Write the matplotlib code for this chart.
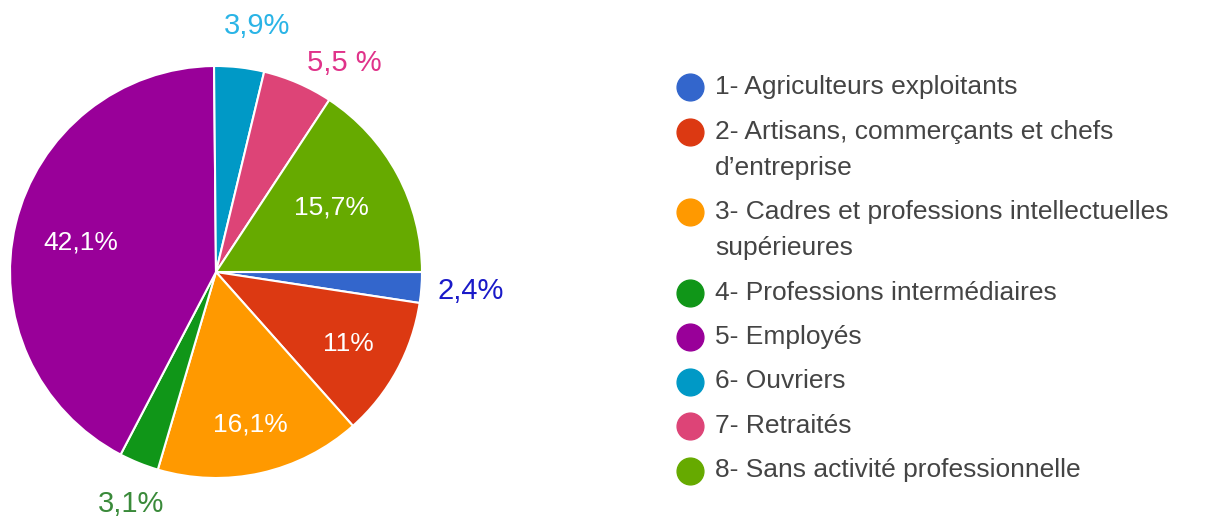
import textwrap
import numpy as np
import matplotlib
matplotlib.use("Agg")
import matplotlib.pyplot as plt

# ---------------- data ----------------
categories = [
    "1- Agriculteurs exploitants",
    "2- Artisans, commerçants et chefs d’entreprise",
    "3- Cadres et professions intellectuelles supérieures",
    "4- Professions intermédiaires",
    "5- Employés",
    "6- Ouvriers",
    "7- Retraités",
    "8- Sans activité professionnelle",
]
values = [2.4, 11, 16.1, 3.1, 42.1, 3.9, 5.5, 15.7]
value_labels = ["2,4%", "11%", "16,1%", "3,1%", "42,1%", "3,9%", "5,5 %", "15,7%"]
colors = ["#3366CC", "#DC3912", "#FF9900", "#109618",
          "#990099", "#0099C6", "#DD4477", "#66AA00"]

# label styling / layout (not data)
inside = [False, True, True, False, True, False, False, True]
label_radius = [1.24, 0.73, 0.76, 1.20, 0.67, 1.21, 1.19, 0.64]
angle_shift = [0, 0, 0, 2, 1, -3, -8, 1]
outside_colors = {0: "#1a1ac8", 3: "#3a8a3a", 5: "#2ab4e6", 6: "#e0338a"}

W, H = 1206, 523
plt.rcParams['font.family'] = ['Liberation Sans', 'DejaVu Sans']
fig = plt.figure(figsize=(W / 100, H / 100), dpi=100)
fig.patch.set_facecolor("white")

# pie axes: center (216, 272) px, radius 206 px
cx, cy, r = 216, 272, 206
ax = fig.add_axes([(cx - r) / W, (H - cy - r) / H, 2 * r / W, 2 * r / H])
wedges, _ = ax.pie(values, colors=colors, startangle=0, counterclock=False,
                   radius=1.0,
                   wedgeprops=dict(edgecolor="white", linewidth=1.5))
ax.set_xlim(-1, 1)
ax.set_ylim(-1, 1)
ax.set_aspect("equal")
ax.axis("off")

for i, w in enumerate(wedges):
    mid = np.deg2rad((w.theta1 + w.theta2) / 2 + angle_shift[i])
    x = label_radius[i] * np.cos(mid)
    y = label_radius[i] * np.sin(mid)
    if inside[i]:
        ax.text(x, y, value_labels[i], ha="center", va="center",
                color="white", fontsize=19, clip_on=False)
    else:
        ax.text(x, y, value_labels[i], ha="center", va="center",
                color=outside_colors[i], fontsize=21, clip_on=False)

# legend overlay in pixel coordinates
lax = fig.add_axes([0, 0, 1, 1])
lax.set_xlim(0, W)
lax.set_ylim(H, 0)
lax.axis("off")

y = 87
for cat, col in zip(categories, colors):
    lines = textwrap.wrap(cat, width=40)
    lax.scatter([690], [y], s=13 ** 2 * 4 * 0.55, color=col, zorder=3)
    for j, line in enumerate(lines):
        lax.text(715, y + 36 * j, line, ha="left", va="center",
                 fontsize=19, color="#444444")
    y += 44.5 + 36 * (len(lines) - 1)

fig.savefig("out.png", dpi=100, facecolor="white")
